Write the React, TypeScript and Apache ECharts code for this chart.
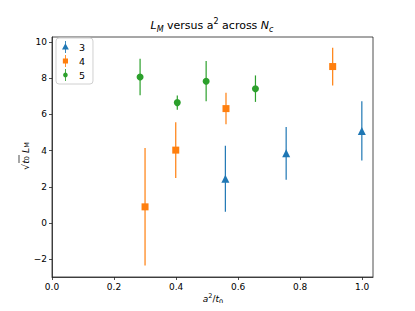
import React, { useEffect, useRef } from "react";
import * as echarts from "echarts";

const seriesNames = ["3", "4", "5"];
const colors = ["#1f77b4", "#ff7f0e", "#2ca02c"];

const x3 = [0.559, 0.755, 0.999];
const y3 = [2.45, 3.85, 5.09];
const e3 = [1.82, 1.46, 1.63];

const x4 = [0.300, 0.399, 0.561, 0.905];
const y4 = [0.90, 4.03, 6.32, 8.64];
const e4 = [3.24, 1.54, 0.87, 1.04];

const x5 = [0.284, 0.404, 0.497, 0.656];
const y5 = [8.06, 6.65, 7.83, 7.42];
const e5 = [1.01, 0.39, 1.11, 0.73];

const xTicks = [0, 0.2, 0.4, 0.6, 0.8, 1.0];
const yTicks = [-2, 0, 2, 4, 6, 8, 10];

const FONT = "DejaVu Sans";

const legendIcons = [
  "path://M4.5,0 L5.5,0 L5.5,3.5 L9,10 L5.5,10 L5.5,14 L4.5,14 L4.5,10 L1,10 L4.5,3.5 Z",
  "path://M4.5,0 L5.5,0 L5.5,4 L8,4 L8,10 L5.5,10 L5.5,14 L4.5,14 L4.5,10 L2,10 L2,4 L4.5,4 Z",
  "path://M4.5,0 L5.5,0 L5.5,4.1 A3,3 0 0 1 5.5,9.9 L5.5,14 L4.5,14 L4.5,9.9 A3,3 0 0 1 4.5,4.1 Z",
];
const symbols = ["triangle", "rect", "circle"];
const symbolSizes = [8, 7, 7];

export default function App() {
  const ref = useRef<HTMLDivElement>(null);
  useEffect(() => {
    if (!ref.current) return;
    const chart = echarts.init(ref.current, null, { renderer: "svg" });
    const groups = [
      [x3, y3, e3],
      [x4, y4, e4],
      [x5, y5, e5],
    ];
    const series: any[] = [];
    groups.forEach((g, i) => {
      const [xs, ys, es] = g;
      const data = xs.map((x, k) => [x, ys[k], es[k]]);
      series.push({
        type: "custom",
        name: "err" + seriesNames[i],
        data,
        encode: { x: 0, y: 1 },
        renderItem: (params: any, api: any) => {
          const x = api.value(0);
          const y = api.value(1);
          const e = api.value(2);
          const p1 = api.coord([x, y + e]);
          const p2 = api.coord([x, y - e]);
          return {
            type: "line",
            shape: { x1: p1[0], y1: p1[1], x2: p2[0], y2: p2[1] },
            style: { stroke: colors[i], lineWidth: 1.2 },
          };
        },
        z: 2,
      });
      series.push({
        type: "scatter",
        name: seriesNames[i],
        data: data.map((d) => [d[0], d[1]]),
        symbol: symbols[i],
        symbolSize: symbolSizes[i],
        itemStyle: { color: colors[i], opacity: 1 },
        z: 3,
      });
    });

    const rich = {
      i: { fontFamily: FONT, fontStyle: "italic", fontWeight: "normal", fontSize: 11, color: "#000", lineHeight: 16 },
      n: { fontFamily: FONT, fontWeight: "normal", fontSize: 11, color: "#000", lineHeight: 16 },
      sub: { fontFamily: FONT, fontStyle: "italic", fontWeight: "normal", fontSize: 8, color: "#000", verticalAlign: "bottom", lineHeight: 16 },
      sup: { fontFamily: FONT, fontWeight: "normal", fontSize: 8, color: "#000", verticalAlign: "top", lineHeight: 16 },
    };

    chart.setOption({
      animation: false,
      backgroundColor: "#fff",
      title: {
        text: "{i|L}{sub|M}{n| versus a}{sup|2}{n| across }{i|N}{sub|c}",
        left: 212,
        top: 17,
        padding: 0,
        textAlign: "center",
        textStyle: { fontWeight: "normal", rich },
      },
      legend: {
        orient: "vertical",
        left: 56,
        top: 38,
        data: seriesNames.map((n, i) => ({ name: n, icon: legendIcons[i] })),
        itemWidth: 9,
        itemHeight: 12,
        itemGap: 2,
        padding: [3, 8, 3, 6],
        borderColor: "#d0d0d0",
        borderWidth: 1,
        borderRadius: 3,
        backgroundColor: "rgba(255,255,255,0.8)",
        textStyle: { fontFamily: FONT, fontSize: 9.5, color: "#000", padding: [0, 0, 0, 4] },
      },
      grid: {
        left: 52,
        right: 42,
        top: 37,
        bottom: 34,
        show: true,
        borderColor: "#222",
        borderWidth: 0.8,
        backgroundColor: "transparent",
        outerBoundsMode: "none",
        containLabel: false,
      },
      xAxis: {
        type: "value",
        min: 0,
        max: 1.035,
        axisLine: { show: true, onZero: false, lineStyle: { color: "#222", width: 0.8 } },
        axisTick: { show: true, length: 3, customValues: xTicks, lineStyle: { color: "#222", width: 0.8 } },
        axisLabel: {
          customValues: xTicks,
          formatter: (v: number) => v.toFixed(1),
          fontFamily: FONT,
          fontSize: 9,
          color: "#000",
          margin: 5,
        },
        splitLine: { show: false },
      },
      yAxis: {
        type: "value",
        min: -2.97,
        max: 10.27,
        axisLine: { show: true, onZero: false, lineStyle: { color: "#222", width: 0.8 } },
        axisTick: { show: true, length: 3, customValues: yTicks, lineStyle: { color: "#222", width: 0.8 } },
        axisLabel: {
          customValues: yTicks,
          formatter: (v: number) => (v < 0 ? "\u2212" + Math.abs(v) : String(v)),
          fontFamily: FONT,
          fontSize: 9,
          color: "#000",
          margin: 5,
        },
        splitLine: { show: false },
      },
      graphic: [
        {
          type: "text",
          x: 213,
          y: 299,
          style: {
            text: "{i|a}{sup|2}{n|/}{i|t}{sub|0}",
            align: "center",
            verticalAlign: "middle",
            fill: "#000",
            rich: {
              i: { fontFamily: FONT, fontStyle: "italic", fontSize: 9, fill: "#000", lineHeight: 13 },
              n: { fontFamily: FONT, fontSize: 9, fill: "#000", lineHeight: 13 },
              sub: { fontFamily: FONT, fontSize: 6.5, fill: "#000", verticalAlign: "bottom", lineHeight: 13 },
              sup: { fontFamily: FONT, fontSize: 6.5, fill: "#000", verticalAlign: "top", lineHeight: 13 },
            },
          },
        },
        {
          type: "group",
          x: 25,
          y: 156,
          rotation: Math.PI / 2,
          children: [
            {
              type: "text",
              x: 0,
              y: 0,
              style: {
                text: "\u221A{i|t}{sub|0}{i| L}{sub|M}",
                fontFamily: FONT,
                fontSize: 9.5,
                fill: "#000",
                align: "center",
                verticalAlign: "middle",
                rich: {
                  i: { fontFamily: FONT, fontStyle: "italic", fontSize: 9.5, fill: "#000" },
                  sub: { fontFamily: FONT, fontSize: 6.5, fill: "#000", verticalAlign: "bottom" },
                },
              },
            },
            {
              type: "line",
              shape: { x1: -7, y1: -6, x2: 1, y2: -6 },
              style: { stroke: "#000", lineWidth: 0.7 },
            },
          ],
        },
      ],
      series,
    });
    return () => chart.dispose();
  }, []);
  return <div ref={ref} style={{ width: 415, height: 311, margin: -8 }} />;
}
